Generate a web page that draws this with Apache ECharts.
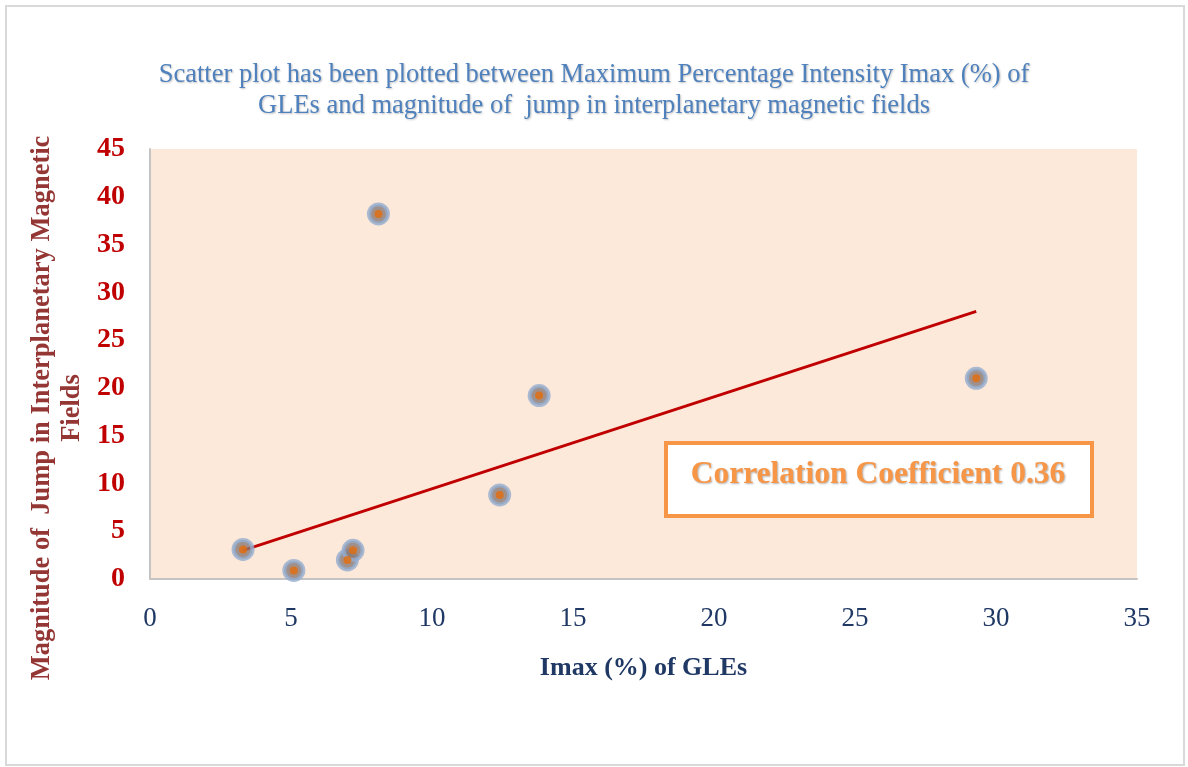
<!DOCTYPE html>
<html>
<head>
<meta charset="utf-8">
<script src="https://cdn.jsdelivr.net/npm/echarts@6/dist/echarts.min.js"></script>
<style>
html,body{margin:0;padding:0;background:#fff;}
#c{width:1188px;height:767px;}
</style>
</head>
<body>
<div id="c"></div>
<script>
// Data
const imaxValues = [3.3, 5.1, 7.0, 7.2, 8.1, 12.4, 13.8, 29.3];
const jumpValues = [3.1, 0.9, 2.0, 3.0, 38.2, 8.8, 19.2, 21.0];
const trendX = [3.3, 29.3];
const trendY = [3.0, 28.0];
const xTicks = [0, 5, 10, 15, 20, 25, 30, 35];
const yTicks = [0, 5, 10, 15, 20, 25, 30, 35, 40, 45];
const titleLines = ['Scatter plot has been plotted between Maximum Percentage Intensity Imax (%) of',
                    'GLEs and magnitude of  jump in interplanetary magnetic fields'];
const xName = 'Imax (%) of GLEs';
const yNameLines = ['Magnitude of  Jump in Interplanetary Magnetic', 'Fields'];
const corrLabel = 'Correlation Coefficient 0.36';

const points = imaxValues.map((x, i) => [x, jumpValues[i]]);
const trend = trendX.map((x, i) => [x, trendY[i]]);
const serif = '"Liberation Serif", "Times New Roman", serif';

const chart = echarts.init(document.getElementById('c'));
chart.setOption({
  backgroundColor: '#ffffff',
  animation: false,
  title: {
    text: titleLines.join('\n'),
    left: 'center',
    top: 55,
    textStyle: {
      fontFamily: serif, fontSize: 26.5, fontWeight: 'normal', color: '#4f81bd',
      lineHeight: 31,
      textShadowColor: 'rgba(0,0,0,0.25)', textShadowBlur: 2, textShadowOffsetX: 1, textShadowOffsetY: 1
    }
  },
  grid: {
    left: 150, right: 51, top: 149, bottom: 188,
    show: true, backgroundColor: '#fde9da', borderWidth: 0
  },
  xAxis: {
    type: 'value', min: 0, max: 35, interval: 5,
    name: xName, nameLocation: 'middle', nameGap: 76,
    nameTextStyle: { fontFamily: serif, fontSize: 26, fontWeight: 'bold', color: '#1f3864' },
    axisLine: { show: true, lineStyle: { color: '#c4c4c4', width: 2 } },
    axisTick: { show: false },
    splitLine: { show: false },
    axisLabel: { fontFamily: serif, fontSize: 27, color: '#1f3864', margin: 26,
      formatter: v => xTicks.includes(v) ? String(v) : '' }
  },
  yAxis: {
    type: 'value', min: 0, max: 45, interval: 5,
    axisLine: { show: true, lineStyle: { color: '#c4c4c4', width: 2 } },
    axisTick: { show: false },
    splitLine: { show: false },
    axisLabel: { fontFamily: serif, fontSize: 28, fontWeight: 'bold', color: '#c00000', margin: 25,
      formatter: v => yTicks.includes(v) ? String(v) : '' }
  },
  graphic: [
    {
      type: 'rect', left: 5, top: 5, z: -10, silent: true,
      shape: { width: 1178, height: 759 },
      style: { fill: 'transparent', stroke: '#d9d9d9', lineWidth: 2 }
    },
    {
      type: 'text', x: 57, y: 408, rotation: Math.PI / 2, z: 10,
      style: {
        text: yNameLines.join('\n'), fontFamily: serif, fontSize: 26.5, fontWeight: 'bold',
        fill: '#943634', align: 'center', verticalAlign: 'middle', lineHeight: 30
      }
    },
    {
      type: 'group', left: 664, top: 441, z: 20,
      children: [
        { type: 'rect', shape: { x: 0, y: 0, width: 426, height: 73 },
          style: { fill: '#ffffff', stroke: '#f79646', lineWidth: 4 } },
        { type: 'text', x: 212, y: 32,
          style: { text: corrLabel, fontFamily: serif, fontSize: 31.5, fontWeight: 'bold',
            fill: '#f79646', align: 'center', verticalAlign: 'middle',
            textShadowColor: 'rgba(0,0,0,0.3)', textShadowBlur: 2, textShadowOffsetX: 1, textShadowOffsetY: 1 } }
      ]
    }
  ],
  series: [
    {
      type: 'line', data: trend, symbol: 'none', z: 3,
      lineStyle: { color: '#c00000', width: 3 }
    },
    {
      type: 'scatter', data: points, symbol: 'circle', symbolSize: 19, z: 4,
      itemStyle: { color: '#8a7975', borderColor: '#93add0', borderWidth: 4 }
    },
    {
      type: 'scatter', data: points, symbol: 'circle', symbolSize: 8, z: 5,
      itemStyle: { color: '#e46c0a' }
    }
  ]
});
</script>
</body>
</html>
